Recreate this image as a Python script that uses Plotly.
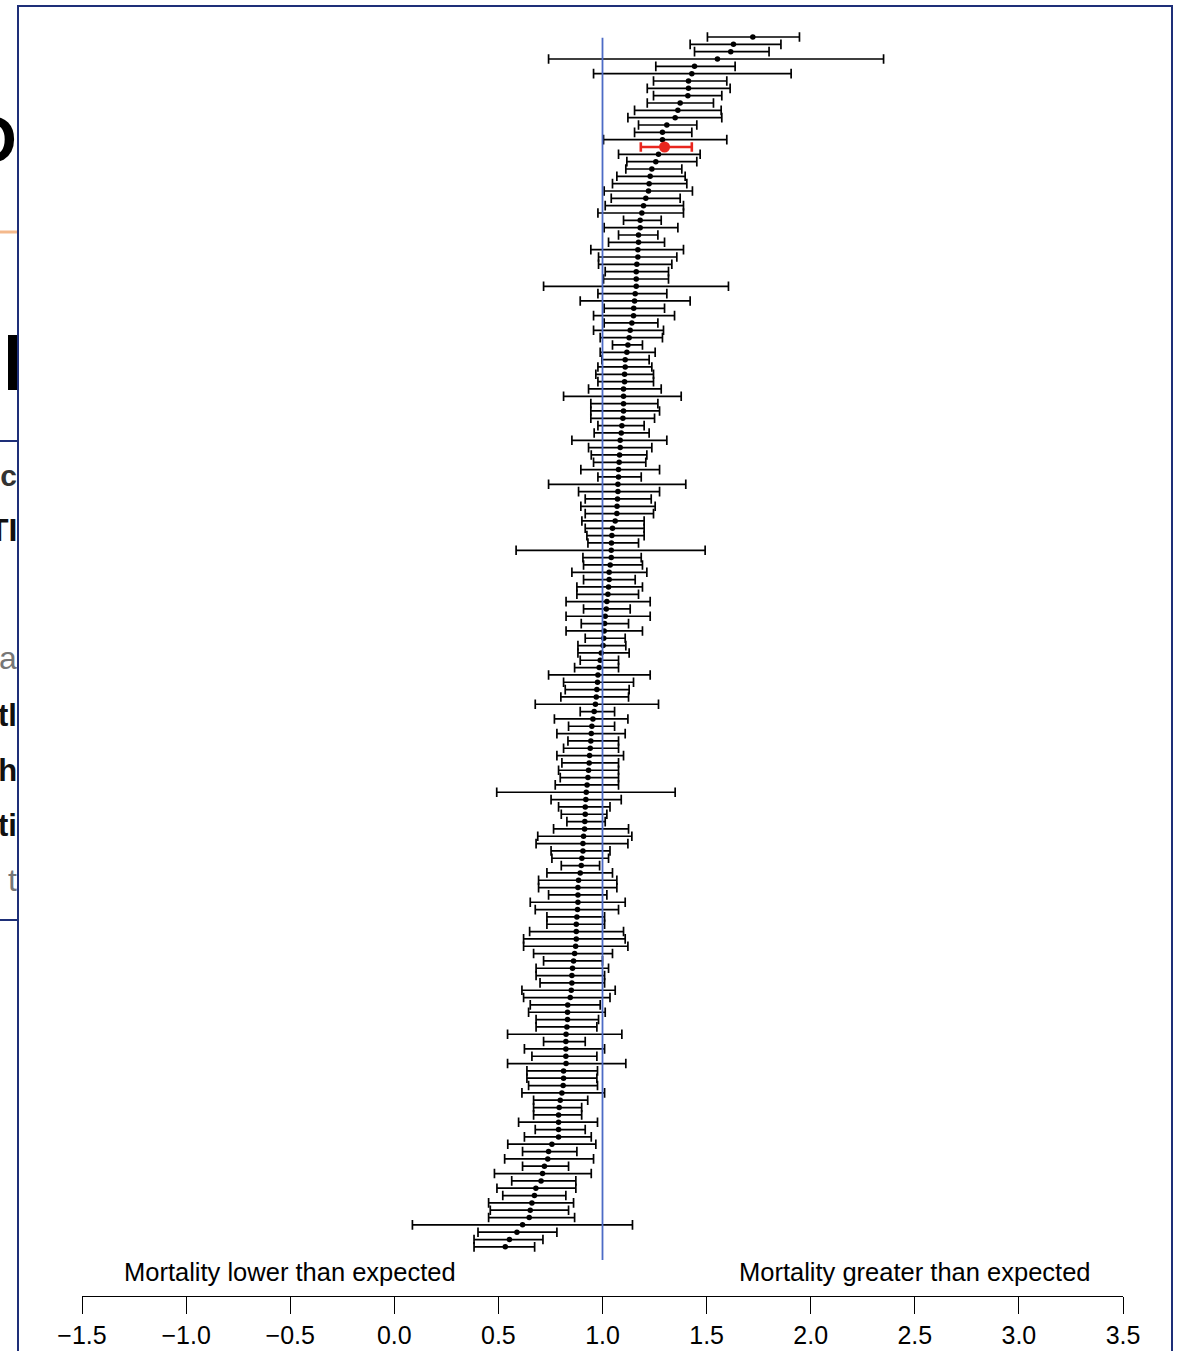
import numpy as np
import plotly.graph_objects as go

# Point estimates (O/E mortality ratio) and 95% CI bounds, top row first
estimate = [1.722, 1.629, 1.616, 1.552, 1.442, 1.429, 1.413, 1.413, 1.410, 1.373,
            1.362, 1.349, 1.309, 1.288, 1.288, 1.298, 1.269, 1.256, 1.237, 1.229,
            1.224, 1.221, 1.208, 1.197, 1.189, 1.181, 1.181, 1.173, 1.173, 1.170,
            1.170, 1.165, 1.162, 1.162, 1.162, 1.157, 1.154, 1.150, 1.149, 1.141,
            1.133, 1.128, 1.122, 1.117, 1.109, 1.109, 1.106, 1.106, 1.101, 1.101,
            1.101, 1.101, 1.098, 1.093, 1.090, 1.085, 1.085, 1.082, 1.080, 1.077,
            1.077, 1.074, 1.074, 1.072, 1.070, 1.069, 1.061, 1.048, 1.045, 1.043,
            1.042, 1.042, 1.037, 1.032, 1.032, 1.029, 1.026, 1.021, 1.018, 1.013,
            1.010, 1.008, 1.006, 1.003, 0.994, 0.989, 0.984, 0.978, 0.976, 0.973,
            0.970, 0.966, 0.960, 0.954, 0.949, 0.946, 0.944, 0.941, 0.938, 0.936,
            0.933, 0.930, 0.926, 0.922, 0.920, 0.917, 0.917, 0.915, 0.914, 0.909,
            0.906, 0.906, 0.901, 0.898, 0.893, 0.885, 0.882, 0.882, 0.882, 0.880,
            0.877, 0.874, 0.874, 0.874, 0.871, 0.866, 0.861, 0.856, 0.853, 0.853,
            0.850, 0.845, 0.833, 0.832, 0.832, 0.829, 0.825, 0.824, 0.824, 0.824,
            0.825, 0.813, 0.813, 0.811, 0.805, 0.797, 0.792, 0.789, 0.789, 0.789,
            0.789, 0.757, 0.741, 0.737, 0.721, 0.712, 0.705, 0.680, 0.673, 0.661,
            0.653, 0.648, 0.616, 0.589, 0.553, 0.533]
lower = [1.504, 1.421, 1.442, 0.741, 1.256, 0.957, 1.245, 1.215, 1.245, 1.215,
         1.154, 1.122, 1.173, 1.154, 1.005, 1.184, 1.077, 1.117, 1.112, 1.069,
         1.048, 1.008, 1.042, 1.013, 0.978, 1.101, 1.008, 1.077, 1.029, 0.944,
         0.981, 0.981, 1.013, 1.005, 0.717, 0.978, 0.893, 1.008, 0.957, 1.008,
         0.957, 0.989, 1.048, 0.989, 0.997, 0.978, 0.968, 0.978, 0.933, 0.813,
         0.944, 0.944, 0.944, 0.978, 0.960, 0.853, 0.933, 0.946, 0.957, 0.896,
         0.978, 0.741, 0.885, 0.917, 0.896, 0.917, 0.901, 0.917, 0.925, 0.930,
         0.585, 0.906, 0.909, 0.853, 0.909, 0.877, 0.877, 0.825, 0.909, 0.825,
         0.898, 0.825, 0.917, 0.882, 0.882, 0.893, 0.866, 0.741, 0.813, 0.821,
         0.800, 0.677, 0.893, 0.769, 0.837, 0.781, 0.834, 0.813, 0.781, 0.805,
         0.789, 0.797, 0.773, 0.492, 0.753, 0.789, 0.802, 0.829, 0.765, 0.689,
         0.681, 0.753, 0.757, 0.802, 0.733, 0.693, 0.693, 0.741, 0.653, 0.677,
         0.733, 0.733, 0.650, 0.621, 0.621, 0.669, 0.717, 0.681, 0.681, 0.700,
         0.613, 0.621, 0.653, 0.645, 0.681, 0.681, 0.544, 0.717, 0.625, 0.661,
         0.544, 0.637, 0.637, 0.645, 0.613, 0.669, 0.669, 0.669, 0.597, 0.677,
         0.625, 0.545, 0.616, 0.530, 0.616, 0.481, 0.564, 0.493, 0.521, 0.453,
         0.461, 0.453, 0.087, 0.402, 0.383, 0.383]
upper = [1.946, 1.857, 1.800, 2.350, 1.637, 1.906, 1.597, 1.613, 1.573, 1.533,
         1.570, 1.573, 1.453, 1.429, 1.597, 1.429, 1.469, 1.453, 1.381, 1.397,
         1.405, 1.432, 1.373, 1.389, 1.389, 1.282, 1.362, 1.266, 1.298, 1.389,
         1.357, 1.333, 1.317, 1.317, 1.605, 1.309, 1.421, 1.298, 1.346, 1.266,
         1.293, 1.288, 1.192, 1.253, 1.224, 1.237, 1.245, 1.245, 1.282, 1.378,
         1.266, 1.274, 1.250, 1.200, 1.224, 1.309, 1.237, 1.213, 1.208, 1.274,
         1.186, 1.400, 1.274, 1.234, 1.253, 1.245, 1.200, 1.200, 1.200, 1.173,
         1.493, 1.186, 1.192, 1.213, 1.157, 1.192, 1.173, 1.229, 1.133, 1.229,
         1.125, 1.192, 1.109, 1.112, 1.128, 1.077, 1.077, 1.229, 1.149, 1.128,
         1.125, 1.269, 1.058, 1.122, 1.058, 1.109, 1.077, 1.077, 1.101, 1.077,
         1.077, 1.077, 1.077, 1.349, 1.090, 1.036, 1.021, 1.013, 1.125, 1.141,
         1.122, 1.036, 1.029, 0.986, 1.048, 1.069, 1.069, 1.021, 1.109, 1.077,
         1.010, 1.010, 1.101, 1.109, 1.122, 1.048, 1.000, 1.029, 1.010, 1.010,
         1.061, 1.036, 0.989, 1.013, 0.981, 0.973, 1.093, 0.917, 1.010, 0.973,
         1.112, 0.976, 0.973, 0.976, 1.010, 0.929, 0.900, 0.900, 0.976, 0.917,
         0.946, 0.968, 0.877, 0.957, 0.837, 0.946, 0.872, 0.872, 0.824, 0.861,
         0.837, 0.866, 1.144, 0.781, 0.714, 0.674]
highlight_row = 16  # 1-based row drawn in red

tick_vals = [-1.5, -1.0, -0.5, 0.0, 0.5, 1.0, 1.5, 2.0, 2.5, 3.0, 3.5]
tick_text = ["\u22121.5", "\u22121.0", "\u22120.5", "0.0", "0.5", "1.0",
             "1.5", "2.0", "2.5", "3.0", "3.5"]

est = np.array(estimate)
lo = np.array(lower)
hi = np.array(upper)
rows = np.arange(1, len(est) + 1)
hmask = rows == highlight_row
nmask = ~hmask

W, H = 1185, 1351
ML, MR, MT, MB = 82, 62, 30, 55
PW, PH = W - ML - MR, H - MT - MB

def px(x):
    return (x - ML) / PW

def py(y):
    return (H - MB - y) / PH

fig = go.Figure()
fig.add_trace(go.Scatter(
    x=est[nmask], y=rows[nmask], mode="markers",
    marker=dict(color="black", size=5.5),
    error_x=dict(type="data", symmetric=False,
                 array=(hi - est)[nmask], arrayminus=(est - lo)[nmask],
                 color="black", thickness=1.7, width=4.8),
    showlegend=False, hoverinfo="skip"))
fig.add_trace(go.Scatter(
    x=est[hmask], y=rows[hmask], mode="markers",
    marker=dict(color="#E8261E", size=11),
    error_x=dict(type="data", symmetric=False,
                 array=(hi - est)[hmask], arrayminus=(est - lo)[hmask],
                 color="#E8261E", thickness=2.6, width=4.8),
    showlegend=False, hoverinfo="skip"))

shapes = [
    # reference line at 1
    dict(type="line", xref="x", yref="y", x0=1, x1=1, y0=1.1, y1=167.8,
         line=dict(color="#4D6BC6", width=1.8), layer="above"),
    # outer frame
    dict(type="rect", xref="paper", yref="paper", x0=px(18), x1=px(1172),
         y0=py(1365), y1=py(6), line=dict(color="#1E2F78", width=2)),
    # slide fragments on left
    dict(type="line", xref="paper", yref="paper", x0=px(0), x1=px(17),
         y0=py(232), y1=py(232), line=dict(color="#F4B98C", width=3)),
    dict(type="rect", xref="paper", yref="paper", x0=px(8), x1=px(17),
         y0=py(390), y1=py(335), fillcolor="black", line=dict(width=0)),
    dict(type="line", xref="paper", yref="paper", x0=px(0), x1=px(17),
         y0=py(441), y1=py(441), line=dict(color="#1E2F78", width=2)),
    dict(type="line", xref="paper", yref="paper", x0=px(0), x1=px(17),
         y0=py(920), y1=py(920), line=dict(color="#1E2F78", width=2)),
]

annotations = [
    dict(text="Mortality lower than expected", x=-0.5, y=169.4, xref="x", yref="y",
         showarrow=False, font=dict(size=25.5, color="black", family="Liberation Sans")),
    dict(text="Mortality greater than expected", x=2.5, y=169.4, xref="x", yref="y",
         showarrow=False, font=dict(size=25.5, color="black", family="Liberation Sans")),
]
frags = [("O", 140, 64, "black", True),
         ("nc", 475, 30, "#333333", True),
         ("TI", 530, 32, "#111111", True),
         ("a", 658, 32, "#777777", False),
         ("tl", 715, 31, "#111111", True),
         ("th", 770, 31, "#111111", True),
         ("ti", 825, 31, "#111111", True),
         ("t", 880, 32, "#777777", False)]
for t, yy, sz, col, bold in frags:
    annotations.append(dict(
        text=f"<b>{t}</b>" if bold else t, x=px(19), y=py(yy),
        xref="paper", yref="paper", xanchor="right", yanchor="middle",
        showarrow=False, font=dict(size=sz, color=col, family="Liberation Sans")))

fig.update_layout(
    width=W, height=H, margin=dict(l=ML, r=MR, t=MT, b=MB, autoexpand=False),
    paper_bgcolor="white", plot_bgcolor="white",
    shapes=shapes, annotations=annotations,
    xaxis=dict(range=[-1.5, 3.5], showgrid=False, zeroline=False, automargin=False,
               showline=True, linecolor="black", linewidth=1.3,
               ticks="outside", ticklen=17, tickwidth=1.3, tickcolor="black",
               tickvals=tick_vals, ticktext=tick_text,
               tickfont=dict(size=25, color="black", family="Liberation Sans")),
    yaxis=dict(range=[172.7, 0.045], visible=False, showgrid=False, zeroline=False,
               automargin=False),
)

fig.write_html("out.html", config={"displayModeBar": False},
               post_script="document.body.style.margin='0';document.body.style.overflow='hidden';")
